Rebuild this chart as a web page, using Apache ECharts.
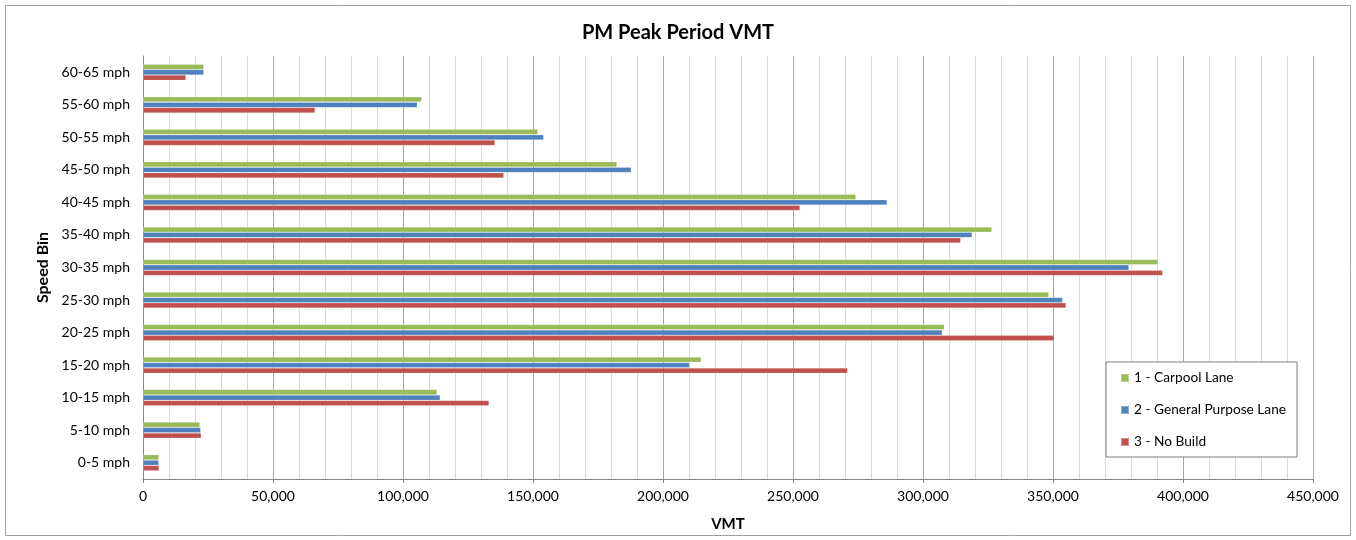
<!DOCTYPE html>
<html>
<head>
<meta charset="utf-8">
<script src="https://cdn.jsdelivr.net/npm/echarts@6/dist/echarts.min.js"></script>
<style>
  html, body { margin: 0; padding: 0; background: #fff; }
  #chart { width: 1356px; height: 540px; }
</style>
</head>
<body>
<div id="chart"></div>
<script>
// Speed bins, bottom to top
const categories = ['0-5 mph', '5-10 mph', '10-15 mph', '15-20 mph', '20-25 mph', '25-30 mph',
  '30-35 mph', '35-40 mph', '40-45 mph', '45-50 mph', '50-55 mph', '55-60 mph', '60-65 mph'];

// Vehicle miles travelled per speed bin, PM peak period
const carpoolLane = [6100, 21900, 113100, 214700, 308200, 348400, 390400, 326500, 274200, 182300, 151900, 107200, 23400];
const generalPurposeLane = [6100, 22200, 114300, 210200, 307400, 353700, 379200, 318900, 286200, 187800, 154100, 105500, 23400];
const noBuild = [6200, 22400, 133100, 271000, 350500, 355000, 392200, 314500, 252700, 138800, 135400, 66200, 16500];

const seriesNames = ['1 - Carpool Lane', '2 - General Purpose Lane', '3 - No Build'];
const FONT = 'Lato, "Open Sans", sans-serif';

const chart = echarts.init(document.getElementById('chart'), null, { renderer: 'canvas' });

function barSeries(name, data, color) {
  return {
    name: name,
    type: 'bar',
    data: data,
    barGap: '0%',
    barCategoryGap: '50%',
    itemStyle: { color: color, borderColor: 'rgba(255,255,255,0.35)', borderWidth: 0.6 },
    emphasis: { disabled: true },
    animation: false
  };
}

chart.setOption({
  animation: false,
  title: {
    text: 'PM Peak Period VMT',
    left: 'center',
    top: 18,
    textStyle: { fontFamily: FONT, fontSize: 20, fontWeight: 'bold', color: '#000' }
  },
  legend: {
    data: seriesNames,
    orient: 'vertical',
    left: 1106,
    top: 362,
    padding: [9, 11, 8, 14],
    itemGap: 18,
    itemWidth: 8,
    itemHeight: 8,
    icon: 'rect',
    selectedMode: false,
    borderColor: '#7f7f7f',
    borderWidth: 1,
    backgroundColor: '#fff',
    textStyle: { fontFamily: FONT, fontSize: 13.7, color: '#000' }
  },
  grid: { left: 143, right: 43, top: 56, bottom: 61, containLabel: false },
  xAxis: {
    type: 'value',
    min: 0,
    max: 450000,
    interval: 50000,
    name: 'VMT',
    nameLocation: 'middle',
    nameGap: 38,
    nameTextStyle: { fontFamily: FONT, fontSize: 15, fontWeight: 'bold', color: '#000' },
    axisLine: { show: true, lineStyle: { color: '#868686', width: 1 } },
    axisTick: { show: true, length: 4, lineStyle: { color: '#868686' } },
    axisLabel: {
      fontFamily: FONT, fontSize: 14, color: '#000', margin: 10,
      formatter: v => v.toLocaleString('en-US')
    },
    splitLine: { show: true, lineStyle: { color: '#a6a6a6', width: 1 } },
    minorTick: { show: false, splitNumber: 5 },
    minorSplitLine: { show: true, lineStyle: { color: '#d9d9d9', width: 1 } }
  },
  yAxis: {
    type: 'category',
    data: categories,
    name: 'Speed Bin',
    nameLocation: 'middle',
    nameRotate: 90,
    nameGap: 84,
    nameTextStyle: { fontFamily: FONT, fontSize: 16, fontWeight: 'bold', color: '#000' },
    axisLine: { show: true, lineStyle: { color: '#868686', width: 1 } },
    axisTick: { show: false },
    axisLabel: { fontFamily: FONT, fontSize: 14, color: '#000', margin: 13 },
    splitLine: { show: false }
  },
  graphic: [{
    type: 'rect',
    shape: { x: 5.5, y: 5.5, width: 1345, height: 530 },
    style: { fill: 'none', stroke: '#a0a0a0', lineWidth: 1 },
    silent: true,
    z: -10
  }],
  series: [
    barSeries(seriesNames[0], carpoolLane, '#9bbb59'),
    barSeries(seriesNames[1], generalPurposeLane, '#4f81bd'),
    barSeries(seriesNames[2], noBuild, '#c0504d')
  ]
});
</script>
</body>
</html>
